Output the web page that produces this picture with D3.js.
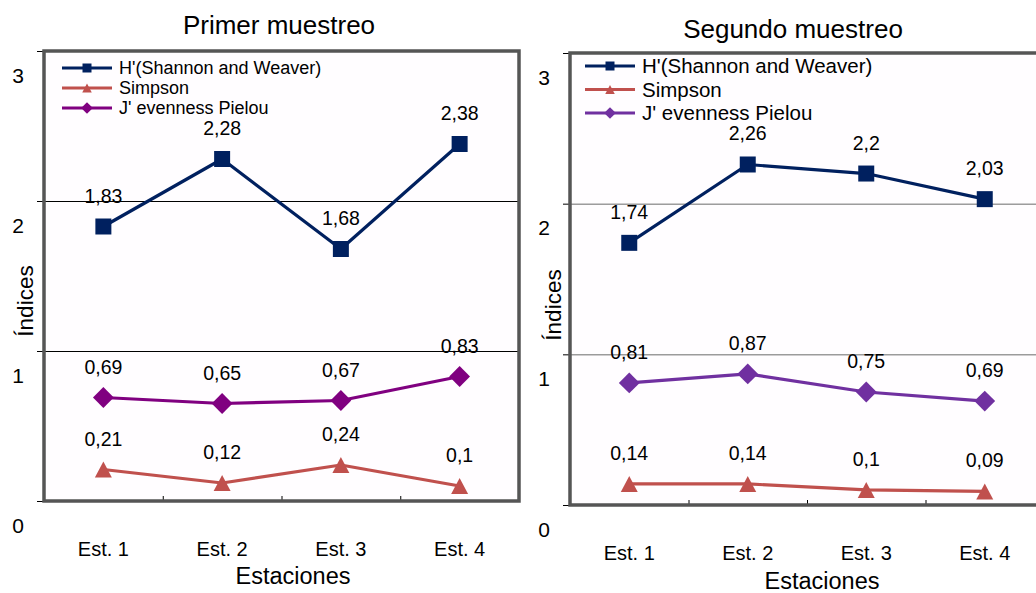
<!DOCTYPE html>
<html>
<head>
<meta charset="utf-8">
<script src="https://cdn.jsdelivr.net/npm/d3@7"></script>
<style>
  html, body { margin: 0; padding: 0; background: #fff; }
  svg { display: block; font-family: "Liberation Sans", Arial, sans-serif; }
</style>
</head>
<body>
<svg id="chart" width="1036" height="593"></svg>
<script>
// Diversity indices per sampling station
const estaciones = ["Est. 1", "Est. 2", "Est. 3", "Est. 4"];
const yTicks = [0, 1, 2, 3];
const seriesNames = ["H'(Shannon and Weaver)", "Simpson", "J' evenness Pielou"];

// First sampling
const shannon1 = [1.83, 2.28, 1.68, 2.38];
const simpson1 = [0.21, 0.12, 0.24, 0.1];
const pielou1  = [0.69, 0.65, 0.67, 0.83];

// Second sampling
const shannon2 = [1.74, 2.26, 2.2, 2.03];
const simpson2 = [0.14, 0.14, 0.1, 0.09];
const pielou2  = [0.81, 0.87, 0.75, 0.69];

const svg = d3.select("#chart");
const fmt = v => String(v).replace(".", ",");

// marker shapes centred on the data point
function markerPath(shape, s) {
  const h = s / 2;
  if (shape === "square") return `M${-h},${-h}H${h}V${h}H${-h}Z`;
  if (shape === "triangle") return `M0,${-h}L${h * 1.06},${h}L${-h * 1.06},${h}Z`;
  return `M0,${-h * 1.3}L${h * 1.3},0L0,${h * 1.3}L${-h * 1.3},0Z`;
}

function drawPanel(cfg) {
  const g = svg.append("g");
  const x = d3.scaleBand().domain(estaciones).range([cfg.x0, cfg.x1]);
  const y = d3.scaleLinear().domain([0, 3]).range([cfg.y1, cfg.y0]);

  // plot background
  g.append("rect")
    .attr("x", cfg.x0).attr("y", cfg.y0)
    .attr("width", cfg.x1 - cfg.x0).attr("height", cfg.y1 - cfg.y0)
    .attr("fill", "#fffdff");

  // horizontal gridlines
  g.selectAll(".grid").data(yTicks.filter(t => t > 0 && t < 3)).enter()
    .append("line")
    .attr("x1", cfg.x0).attr("x2", cfg.x1)
    .attr("y1", d => y(d) + 0.5).attr("y2", d => y(d) + 0.5)
    .attr("stroke", cfg.gridColor).attr("stroke-width", 1);

  // y tick marks
  g.selectAll(".ytick").data(yTicks).enter()
    .append("line")
    .attr("x1", cfg.x0 - 7).attr("x2", cfg.x0)
    .attr("y1", d => y(d) + 0.5).attr("y2", d => y(d) + 0.5)
    .attr("stroke", "#000").attr("stroke-width", 1);

  // x tick marks between stations
  g.selectAll(".xtick").data(estaciones.slice(1)).enter()
    .append("line")
    .attr("x1", d => x(d) + 0.5).attr("x2", d => x(d) + 0.5)
    .attr("y1", cfg.y1 - 5).attr("y2", cfg.y1)
    .attr("stroke", "#000").attr("stroke-width", 1);

  // frame
  g.append("rect")
    .attr("x", cfg.x0).attr("y", cfg.y0)
    .attr("width", cfg.x1 - cfg.x0).attr("height", cfg.y1 - cfg.y0)
    .attr("fill", "none").attr("stroke", "#555").attr("stroke-width", 3.5);

  // y tick labels
  g.selectAll(".ylab").data(yTicks).enter()
    .append("text")
    .attr("x", cfg.x0 - 26)
    .attr("y", d => Math.max(y(d) + 24, cfg.y0 + 2) + 7.5)
    .attr("text-anchor", "middle")
    .attr("font-size", 21)
    .text(d => d);

  // x tick labels
  g.selectAll(".xlab").data(estaciones).enter()
    .append("text")
    .attr("x", d => x(d) + x.bandwidth() / 2)
    .attr("y", cfg.y1 + 55)
    .attr("text-anchor", "middle")
    .attr("font-size", 20)
    .text(d => d);

  // axis titles
  g.append("text")
    .attr("x", cfg.xTitleX)
    .attr("y", cfg.xTitleY)
    .attr("text-anchor", "middle")
    .attr("font-size", 23.5)
    .text("Estaciones");

  g.append("text")
    .attr("transform", `translate(${cfg.yTitleX},${cfg.yTitleMid}) rotate(-90)`)
    .attr("text-anchor", "middle")
    .attr("font-size", 22.5)
    .text("Índices");

  // chart title
  g.append("text")
    .attr("x", cfg.titleX).attr("y", cfg.titleY)
    .attr("text-anchor", "middle")
    .attr("font-size", 26)
    .text(cfg.title);

  const line = d3.line()
    .x((d, i) => x(estaciones[i]) + x.bandwidth() / 2)
    .y(d => y(d));

  cfg.series.forEach(s => {
    g.append("path")
      .datum(s.values)
      .attr("d", line)
      .attr("fill", "none")
      .attr("stroke", s.color)
      .attr("stroke-width", 3.2)
      .attr("stroke-linejoin", "round");

    g.selectAll(null).data(s.values).enter()
      .append("path")
      .attr("transform", (d, i) => `translate(${x(estaciones[i]) + x.bandwidth() / 2},${y(d)})`)
      .attr("d", markerPath(s.shape, 16))
      .attr("fill", s.color);

    g.selectAll(null).data(s.values).enter()
      .append("text")
      .attr("x", (d, i) => x(estaciones[i]) + x.bandwidth() / 2)
      .attr("y", d => y(d) - 24)
      .attr("text-anchor", "middle")
      .attr("font-size", 19.5)
      .text(d => fmt(d));
  });

  // legend
  cfg.series.forEach((s, i) => {
    const ly = cfg.legY + i * cfg.legStep;
    g.append("line")
      .attr("x1", cfg.legX).attr("x2", cfg.legX + 50)
      .attr("y1", ly).attr("y2", ly)
      .attr("stroke", s.color).attr("stroke-width", 3.2);
    g.append("path")
      .attr("transform", `translate(${cfg.legX + 25},${ly})`)
      .attr("d", markerPath(s.shape, 9))
      .attr("fill", s.color);
    g.append("text")
      .attr("x", cfg.legX + 57).attr("y", ly + cfg.legFont * 0.36)
      .attr("font-size", cfg.legFont)
      .text(s.name);
  });
}

const navy = "#00205f", red = "#c0504d";

drawPanel({
  title: "Primer muestreo", titleX: 279, titleY: 34,
  x0: 44, x1: 519, y0: 51, y1: 501,
  gridColor: "#000",
  xTitleX: 293, xTitleY: 584,
  yTitleX: 33, yTitleMid: 301,
  legX: 62, legY: 68, legStep: 20, legFont: 18,
  series: [
    { name: seriesNames[0], values: shannon1, color: navy, shape: "square" },
    { name: seriesNames[1], values: simpson1, color: red, shape: "triangle" },
    { name: seriesNames[2], values: pielou1, color: "#800080", shape: "diamond" }
  ]
});

drawPanel({
  title: "Segundo muestreo", titleX: 793, titleY: 38,
  x0: 570, x1: 1044, y0: 53, y1: 505,
  gridColor: "#6b6b6b",
  xTitleX: 822, xTitleY: 589,
  yTitleX: 561, yTitleMid: 305,
  legX: 585, legY: 66, legStep: 23.5, legFont: 20.5,
  series: [
    { name: seriesNames[0], values: shannon2, color: navy, shape: "square" },
    { name: seriesNames[1], values: simpson2, color: red, shape: "triangle" },
    { name: seriesNames[2], values: pielou2, color: "#7030a0", shape: "diamond" }
  ]
});
</script>
</body>
</html>
